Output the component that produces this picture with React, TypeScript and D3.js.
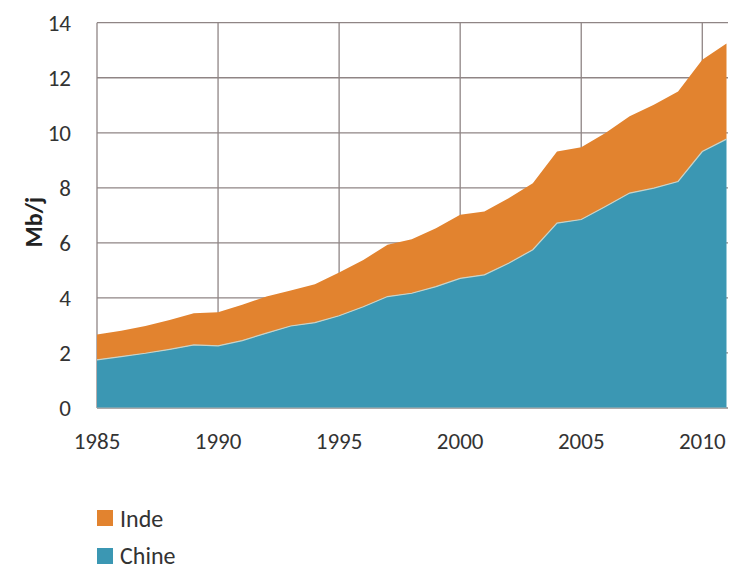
import React from "react";
import * as d3 from "d3";

const years = [1985,1986,1987,1988,1989,1990,1991,1992,1993,1994,1995,1996,1997,1998,1999,2000,2001,2002,2003,2004,2005,2006,2007,2008,2009,2010,2011];
const chine = [1.75,1.87,1.99,2.13,2.29,2.26,2.45,2.72,2.98,3.1,3.35,3.68,4.05,4.17,4.41,4.71,4.84,5.26,5.75,6.72,6.85,7.32,7.81,7.99,8.23,9.32,9.77];
const inde = [0.92,0.94,0.99,1.07,1.15,1.22,1.3,1.33,1.29,1.4,1.57,1.7,1.88,1.96,2.12,2.31,2.3,2.36,2.42,2.6,2.62,2.67,2.79,3.03,3.27,3.33,3.47];
const yTicks = [0,2,4,6,8,10,12,14];
const xTicks = [1985,1990,1995,2000,2005,2010];
const seriesNames = ["Chine","Inde"];
const colors: Record<string,string> = { Chine: "#3B97B3", Inde: "#E2832F" };

export default function App() {
  const W = 732, H = 571;
  const left = 97, right = 726.5, top = 22.7, bottom = 408;
  const x = d3.scaleLinear().domain([1985, 2011]).range([left, right]);
  const y = d3.scaleLinear().domain([0, 14]).range([bottom, top]);
  const rows = years.map((yr, i) => ({ year: yr, Chine: chine[i], Inde: inde[i] }));
  const stacked = d3.stack<any>().keys(seriesNames)(rows);
  const area = d3.area<any>().x((d) => x(d.data.year)).y0((d) => y(d[0])).y1((d) => y(d[1]));
  const topLine = d3.line<any>().x((d) => x(d.data.year)).y((d) => y(d[1]));
  const font = "Carlito, 'Open Sans', 'Liberation Sans', sans-serif";
  const grid = "#8f8585";
  return (
    <svg width={W} height={H} style={{ position: "absolute", left: 0, top: 0, background: "#fff" }}>
      {yTicks.map((t) => (
        <line key={"gy" + t} x1={left} x2={728} y1={y(t)} y2={y(t)} stroke={grid} strokeWidth={1.3} />
      ))}
      {xTicks.map((t) => (
        <line key={"gx" + t} x1={x(t)} x2={x(t)} y1={top} y2={bottom} stroke={grid} strokeWidth={1.3} />
      ))}
      {stacked.map((s) => (
        <path key={s.key} d={area(s) || ""} fill={colors[s.key]} />
      ))}
      <path d={topLine(stacked[0]) || ""} fill="none" stroke="#c7d3c9" strokeWidth={1.2} />
      <line x1={left} x2={right} y1={bottom} y2={bottom} stroke="#b0b0b0" strokeWidth={1} />
      {yTicks.map((t) => (
        <text key={"ty" + t} x={71} y={y(t)} dy="0.35em" textAnchor="end" fontFamily={font} fontSize={23} fill="#333">{t}</text>
      ))}
      {xTicks.map((t) => (
        <text key={"tx" + t} x={x(t)} y={449} textAnchor="middle" fontFamily={font} fontSize={23} fill="#333">{t}</text>
      ))}
      <text transform="translate(42,222) rotate(-90)" textAnchor="middle" fontFamily={font} fontSize={24} fontWeight="bold" fill="#222">Mb/j</text>
      <rect x={97} y={510} width={16} height={16} fill={colors.Inde} />
      <text x={120} y={527} fontFamily={font} fontSize={24} fill="#333">Inde</text>
      <rect x={97} y={548} width={16} height={16} fill={colors.Chine} />
      <text x={120} y={564} fontFamily={font} fontSize={24} fill="#333">Chine</text>
    </svg>
  );
}
